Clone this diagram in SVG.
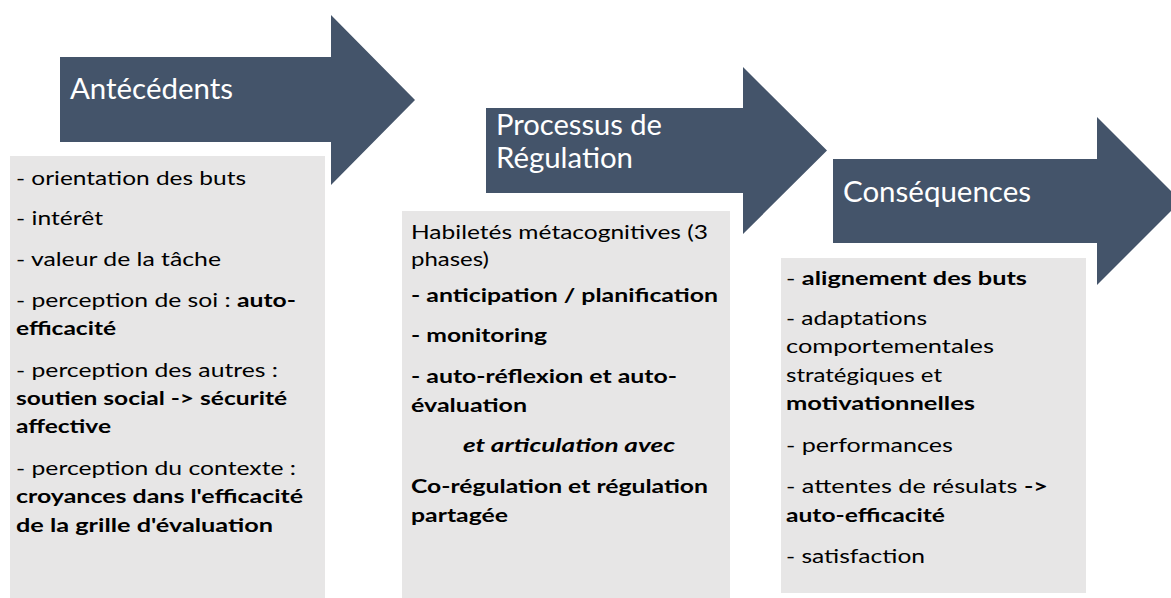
<svg xmlns="http://www.w3.org/2000/svg" width="1171" height="598" viewBox="0 0 1171 598">
<style>
.arrow{fill:#44546A}
.box{fill:#E7E6E6}
.title{font-family:Lato,"Open Sans","Liberation Sans",sans-serif;font-size:29px;fill:#FFFFFF}
.t{font-family:Lato,"Open Sans","Liberation Sans",sans-serif;font-size:19.5px;fill:#000000}
.b{font-weight:bold}
.bi{font-weight:bold;font-style:italic}
</style>
<rect width="1171" height="598" fill="#FFFFFF"/>
<g id="arrow-antecedents">
<polygon class="arrow" points="60,57 331,57 331,15 415,100 331,185 331,142 60,142"/>
<text class="title" x="70" y="99" textLength="163" lengthAdjust="spacingAndGlyphs">Antécédents</text>
</g>
<g id="arrow-processus">
<polygon class="arrow" points="486,108 743,108 743,67 827,150.5 743,234 743,193 486,193"/>
<text class="title" x="496" y="135" textLength="166" lengthAdjust="spacingAndGlyphs">Processus de</text>
<text class="title" x="496" y="168" textLength="137" lengthAdjust="spacingAndGlyphs">Régulation</text>
</g>
<g id="arrow-consequences">
<polygon class="arrow" points="833,159 1097,159 1097,117 1181,201 1097,285 1097,243 833,243"/>
<text class="title" x="843" y="202" textLength="188" lengthAdjust="spacingAndGlyphs">Conséquences</text>
</g>
<g id="box-antecedents">
<rect class="box" x="10" y="156" width="315" height="442"/>
<text class="t" x="16" y="185" textLength="230" lengthAdjust="spacingAndGlyphs">- orientation des buts</text>
<text class="t" x="16" y="225" textLength="87" lengthAdjust="spacingAndGlyphs">- intérêt</text>
<text class="t" x="16" y="266" textLength="205" lengthAdjust="spacingAndGlyphs">- valeur de la tâche</text>
<text class="t" x="16" y="307" textLength="280" lengthAdjust="spacingAndGlyphs">- perception de soi : <tspan class="b">auto-</tspan></text>
<text class="t b" x="16" y="335" textLength="100" lengthAdjust="spacingAndGlyphs">efficacité</text>
<text class="t" x="16" y="377" textLength="262" lengthAdjust="spacingAndGlyphs">- perception des autres :</text>
<text class="t b" x="16" y="405" textLength="271" lengthAdjust="spacingAndGlyphs">soutien social -&gt; sécurité</text>
<text class="t b" x="16" y="433" textLength="95" lengthAdjust="spacingAndGlyphs">affective</text>
<text class="t" x="16" y="475" textLength="280" lengthAdjust="spacingAndGlyphs">- perception du contexte :</text>
<text class="t b" x="16" y="503" textLength="287" lengthAdjust="spacingAndGlyphs">croyances dans l'efficacité</text>
<text class="t b" x="16" y="532" textLength="257" lengthAdjust="spacingAndGlyphs">de la grille d'évaluation</text>
</g>
<g id="box-processus">
<rect class="box" x="402" y="211" width="328" height="387"/>
<text class="t" x="411" y="239" textLength="297" lengthAdjust="spacingAndGlyphs">Habiletés métacognitives (3</text>
<text class="t" x="411" y="266" textLength="78" lengthAdjust="spacingAndGlyphs">phases)</text>
<text class="t b" x="411" y="302" textLength="307" lengthAdjust="spacingAndGlyphs">- anticipation / planification</text>
<text class="t b" x="411" y="342" textLength="136" lengthAdjust="spacingAndGlyphs">- monitoring</text>
<text class="t b" x="411" y="383" textLength="266" lengthAdjust="spacingAndGlyphs">- auto-réflexion et auto-</text>
<text class="t b" x="411" y="412" textLength="116" lengthAdjust="spacingAndGlyphs">évaluation</text>
<text class="t bi" x="463" y="452" textLength="212" lengthAdjust="spacingAndGlyphs">et articulation avec</text>
<text class="t b" x="411" y="493" textLength="297" lengthAdjust="spacingAndGlyphs">Co-régulation et régulation</text>
<text class="t b" x="411" y="522" textLength="97" lengthAdjust="spacingAndGlyphs">partagée</text>
</g>
<g id="box-consequences">
<rect class="box" x="781" y="258" width="305" height="335"/>
<text class="t" x="786" y="285" textLength="241" lengthAdjust="spacingAndGlyphs">- <tspan class="b">alignement des buts</tspan></text>
<text class="t" x="786" y="325" textLength="141" lengthAdjust="spacingAndGlyphs">- adaptations</text>
<text class="t" x="786" y="353" textLength="208" lengthAdjust="spacingAndGlyphs">comportementales</text>
<text class="t" x="786" y="382" textLength="156" lengthAdjust="spacingAndGlyphs">stratégiques et</text>
<text class="t b" x="786" y="410" textLength="189" lengthAdjust="spacingAndGlyphs">motivationnelles</text>
<text class="t" x="786" y="452" textLength="167" lengthAdjust="spacingAndGlyphs">- performances</text>
<text class="t" x="786" y="493" textLength="262" lengthAdjust="spacingAndGlyphs">- attentes de résulats <tspan class="b">-&gt;</tspan></text>
<text class="t b" x="786" y="522" textLength="159" lengthAdjust="spacingAndGlyphs">auto-efficacité</text>
<text class="t" x="786" y="563" textLength="139" lengthAdjust="spacingAndGlyphs">- satisfaction</text>
</g>
<g id="connectors"></g>
</svg>
